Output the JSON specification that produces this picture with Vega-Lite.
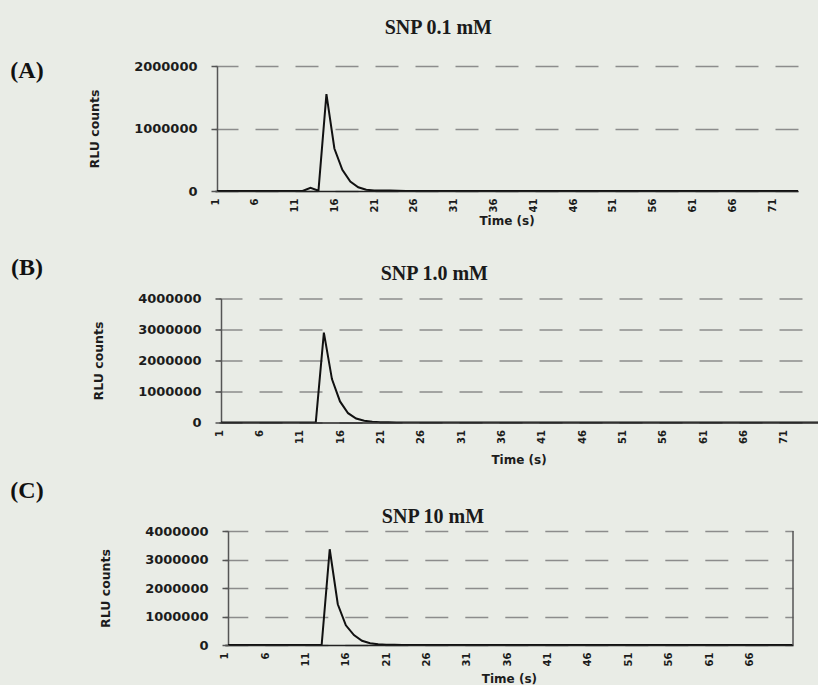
{
  "$schema": "https://vega.github.io/schema/vega-lite/v6.json",
  "background": "#e9ece6",
  "padding": {"left": 0, "top": 18, "right": 0, "bottom": 0},
  "datasets": {
    "A": [
      {"t":1,"rlu":0},{"t":2,"rlu":0},{"t":3,"rlu":0},{"t":4,"rlu":0},{"t":5,"rlu":0},{"t":6,"rlu":0},{"t":7,"rlu":0},{"t":8,"rlu":0},{"t":9,"rlu":0},{"t":10,"rlu":0},
      {"t":11,"rlu":0},{"t":12,"rlu":0},{"t":13,"rlu":50000},{"t":14,"rlu":5000},{"t":15,"rlu":1550000},{"t":16,"rlu":680000},{"t":17,"rlu":340000},{"t":18,"rlu":150000},{"t":19,"rlu":60000},{"t":20,"rlu":20000},
      {"t":21,"rlu":10000},{"t":22,"rlu":8000},{"t":23,"rlu":8000},{"t":24,"rlu":6000},{"t":25,"rlu":2000},{"t":26,"rlu":0},{"t":27,"rlu":0},{"t":28,"rlu":0},{"t":29,"rlu":0},{"t":30,"rlu":0},
      {"t":31,"rlu":0},{"t":32,"rlu":0},{"t":33,"rlu":0},{"t":34,"rlu":0},{"t":35,"rlu":0},{"t":36,"rlu":0},{"t":37,"rlu":0},{"t":38,"rlu":0},{"t":39,"rlu":0},{"t":40,"rlu":0},
      {"t":41,"rlu":0},{"t":42,"rlu":0},{"t":43,"rlu":0},{"t":44,"rlu":0},{"t":45,"rlu":0},{"t":46,"rlu":0},{"t":47,"rlu":0},{"t":48,"rlu":0},{"t":49,"rlu":0},{"t":50,"rlu":0},
      {"t":51,"rlu":0},{"t":52,"rlu":0},{"t":53,"rlu":0},{"t":54,"rlu":0},{"t":55,"rlu":0},{"t":56,"rlu":0},{"t":57,"rlu":0},{"t":58,"rlu":0},{"t":59,"rlu":0},{"t":60,"rlu":0},
      {"t":61,"rlu":0},{"t":62,"rlu":0},{"t":63,"rlu":0},{"t":64,"rlu":0},{"t":65,"rlu":0},{"t":66,"rlu":0},{"t":67,"rlu":0},{"t":68,"rlu":0},{"t":69,"rlu":0},{"t":70,"rlu":0},
      {"t":71,"rlu":0},{"t":72,"rlu":0},{"t":73,"rlu":0},{"t":74,"rlu":0},{"t":75,"rlu":0}
    ],
    "B": [
      {"t":1,"rlu":0},{"t":2,"rlu":0},{"t":3,"rlu":0},{"t":4,"rlu":0},{"t":5,"rlu":0},{"t":6,"rlu":0},{"t":7,"rlu":0},{"t":8,"rlu":0},{"t":9,"rlu":0},{"t":10,"rlu":0},
      {"t":11,"rlu":0},{"t":12,"rlu":0},{"t":13,"rlu":10000},{"t":14,"rlu":2900000},{"t":15,"rlu":1400000},{"t":16,"rlu":680000},{"t":17,"rlu":300000},{"t":18,"rlu":130000},{"t":19,"rlu":55000},{"t":20,"rlu":25000},
      {"t":21,"rlu":10000},{"t":22,"rlu":5000},{"t":23,"rlu":0},{"t":24,"rlu":0},{"t":25,"rlu":0},{"t":26,"rlu":0},{"t":27,"rlu":0},{"t":28,"rlu":0},{"t":29,"rlu":0},{"t":30,"rlu":0},
      {"t":31,"rlu":0},{"t":32,"rlu":0},{"t":33,"rlu":0},{"t":34,"rlu":0},{"t":35,"rlu":0},{"t":36,"rlu":0},{"t":37,"rlu":0},{"t":38,"rlu":0},{"t":39,"rlu":0},{"t":40,"rlu":0},
      {"t":41,"rlu":0},{"t":42,"rlu":0},{"t":43,"rlu":0},{"t":44,"rlu":0},{"t":45,"rlu":0},{"t":46,"rlu":0},{"t":47,"rlu":0},{"t":48,"rlu":0},{"t":49,"rlu":0},{"t":50,"rlu":0},
      {"t":51,"rlu":0},{"t":52,"rlu":0},{"t":53,"rlu":0},{"t":54,"rlu":0},{"t":55,"rlu":0},{"t":56,"rlu":0},{"t":57,"rlu":0},{"t":58,"rlu":0},{"t":59,"rlu":0},{"t":60,"rlu":0},
      {"t":61,"rlu":0},{"t":62,"rlu":0},{"t":63,"rlu":0},{"t":64,"rlu":0},{"t":65,"rlu":0},{"t":66,"rlu":0},{"t":67,"rlu":0},{"t":68,"rlu":0},{"t":69,"rlu":0},{"t":70,"rlu":0},
      {"t":71,"rlu":0},{"t":72,"rlu":0},{"t":73,"rlu":0},{"t":74,"rlu":0},{"t":75,"rlu":0},{"t":76,"rlu":0}
    ],
    "C": [
      {"t":1,"rlu":0},{"t":2,"rlu":0},{"t":3,"rlu":0},{"t":4,"rlu":0},{"t":5,"rlu":0},{"t":6,"rlu":0},{"t":7,"rlu":0},{"t":8,"rlu":0},{"t":9,"rlu":0},{"t":10,"rlu":0},
      {"t":11,"rlu":0},{"t":12,"rlu":0},{"t":13,"rlu":0},{"t":14,"rlu":3360000},{"t":15,"rlu":1430000},{"t":16,"rlu":690000},{"t":17,"rlu":350000},{"t":18,"rlu":150000},{"t":19,"rlu":60000},{"t":20,"rlu":25000},
      {"t":21,"rlu":12000},{"t":22,"rlu":5000},{"t":23,"rlu":0},{"t":24,"rlu":0},{"t":25,"rlu":0},{"t":26,"rlu":0},{"t":27,"rlu":0},{"t":28,"rlu":0},{"t":29,"rlu":0},{"t":30,"rlu":0},
      {"t":31,"rlu":0},{"t":32,"rlu":0},{"t":33,"rlu":0},{"t":34,"rlu":0},{"t":35,"rlu":0},{"t":36,"rlu":0},{"t":37,"rlu":0},{"t":38,"rlu":0},{"t":39,"rlu":0},{"t":40,"rlu":0},
      {"t":41,"rlu":0},{"t":42,"rlu":0},{"t":43,"rlu":0},{"t":44,"rlu":0},{"t":45,"rlu":0},{"t":46,"rlu":0},{"t":47,"rlu":0},{"t":48,"rlu":0},{"t":49,"rlu":0},{"t":50,"rlu":0},
      {"t":51,"rlu":0},{"t":52,"rlu":0},{"t":53,"rlu":0},{"t":54,"rlu":0},{"t":55,"rlu":0},{"t":56,"rlu":0},{"t":57,"rlu":0},{"t":58,"rlu":0},{"t":59,"rlu":0},{"t":60,"rlu":0},
      {"t":61,"rlu":0},{"t":62,"rlu":0},{"t":63,"rlu":0},{"t":64,"rlu":0},{"t":65,"rlu":0},{"t":66,"rlu":0},{"t":67,"rlu":0},{"t":68,"rlu":0},{"t":69,"rlu":0},{"t":70,"rlu":0},
      {"t":71,"rlu":0},{"t":72,"rlu":0}
    ]
  },
  "bounds": "flush",
  "spacing": 232.5,
  "vconcat": [
    {
      "spacing": 34,
      "hconcat": [
        {
          "width": 54, "height": 10,
          "data": {"values": [{"label": "(A)"}]},
          "mark": {"type": "text", "font": "Liberation Serif", "fontWeight": "bold", "fontSize": 24, "color": "#111"},
          "encoding": {"text": {"field": "label", "type": "nominal"}}
        },
        {
          "width": 581, "height": 125,
          "title": {"text": "SNP 0.1 mM", "offset": 22, "frame": "bounds", "anchor": "middle", "dx": -6},
          "data": {"name": "A"},
          "mark": {"type": "line", "color": "#111", "strokeWidth": 2, "clip": true},
          "encoding": {
            "x": {"field": "t", "type": "quantitative", "scale": {"domain": [1, 74.25], "range": [-2, 581], "nice": false, "zero": false},
              "axis": {"values": [1,6,11,16,21,26,31,36,41,46,51,56,61,66,71], "labelAngle": 270, "ticks": false, "tickSize": 0, "labelPadding": 7, "grid": false, "domainColor": "#222", "domainWidth": 1.5, "labelFontSize": 10, "labelFlush": false, "labelOverlap": false, "labelBound": false, "title": "Time (s)", "titleFontSize": 12, "titlePadding": 4}},
            "y": {"field": "rlu", "type": "quantitative", "scale": {"domain": [0, 2000000], "nice": false},
              "axis": {"values": [0, 1000000, 2000000], "format": "d", "grid": true, "gridDash": [23, 17], "gridColor": "#8c8c8c", "gridWidth": 1.5, "tickSize": 6, "labelPadding": 14, "labelFontSize": 13, "labelFlush": false, "labelOverlap": false, "title": "RLU counts", "titleFontSize": 12.5, "titlePadding": 32, "domainWidth": 1.5}}
          }
        }
      ]
    },
    {
      "spacing": 38,
      "hconcat": [
        {
          "width": 54, "height": 10,
          "data": {"values": [{"label": "(B)"}]},
          "mark": {"type": "text", "font": "Liberation Serif", "fontWeight": "bold", "fontSize": 24, "color": "#111", "dy": -36},
          "encoding": {"text": {"field": "label", "type": "nominal"}}
        },
        {
          "width": 597, "height": 124,
          "title": {"text": "SNP 1.0 mM", "offset": 9, "frame": "bounds", "anchor": "middle", "dx": -22},
          "data": {"name": "B"},
          "mark": {"type": "line", "color": "#111", "strokeWidth": 2, "clip": true},
          "encoding": {
            "x": {"field": "t", "type": "quantitative", "scale": {"domain": [1, 75.25], "range": [-2, 597], "nice": false, "zero": false},
              "axis": {"values": [1,6,11,16,21,26,31,36,41,46,51,56,61,66,71], "labelAngle": 270, "ticks": false, "tickSize": 0, "labelPadding": 7, "grid": false, "domainColor": "#222", "domainWidth": 1.5, "labelFontSize": 10, "labelFlush": false, "labelOverlap": false, "labelBound": false, "title": "Time (s)", "titleFontSize": 12, "titlePadding": 11}},
            "y": {"field": "rlu", "type": "quantitative", "scale": {"domain": [0, 4000000], "nice": false},
              "axis": {"values": [0, 1000000, 2000000, 3000000, 4000000], "format": "d", "grid": true, "gridDash": [23, 17], "gridColor": "#8c8c8c", "gridWidth": 1.5, "tickSize": 6, "labelPadding": 14, "labelFontSize": 13, "labelFlush": false, "labelOverlap": false, "title": "RLU counts", "titleFontSize": 12.5, "titlePadding": 32, "domainWidth": 1.5}}
          }
        }
      ]
    },
    {
      "spacing": 45,
      "hconcat": [
        {
          "width": 54, "height": 10,
          "data": {"values": [{"label": "(C)"}]},
          "mark": {"type": "text", "font": "Liberation Serif", "fontWeight": "bold", "fontSize": 24, "color": "#111", "dy": -45},
          "encoding": {"text": {"field": "label", "type": "nominal"}}
        },
        {
          "width": 565, "height": 114,
          "title": {"text": "SNP 10 mM", "offset": -2, "frame": "bounds", "anchor": "middle", "dx": -15},
          "layer": [
            {
              "data": {"name": "C"},
              "mark": {"type": "line", "color": "#111", "strokeWidth": 2, "clip": true},
              "encoding": {
                "x": {"field": "t", "type": "quantitative", "scale": {"domain": [1, 71.4], "range": [-3.2, 565], "nice": false, "zero": false},
                  "axis": {"values": [1,6,11,16,21,26,31,36,41,46,51,56,61,66], "labelAngle": 270, "ticks": false, "tickSize": 0, "labelPadding": 7, "grid": false, "domainColor": "#222", "domainWidth": 1.5, "labelFontSize": 10, "labelFlush": false, "labelOverlap": false, "labelBound": false, "title": "Time (s)", "titleFontSize": 12, "titlePadding": 8}},
                "y": {"field": "rlu", "type": "quantitative", "scale": {"domain": [0, 4000000], "nice": false},
                  "axis": {"values": [0, 1000000, 2000000, 3000000, 4000000], "format": "d", "grid": true, "gridDash": [23, 17], "gridColor": "#8c8c8c", "gridWidth": 1.5, "tickSize": 6, "labelPadding": 14, "labelFontSize": 13, "labelFlush": false, "labelOverlap": false, "title": "RLU counts", "titleFontSize": 12.5, "titlePadding": 32, "domainWidth": 1.5}}
              }
            },
            {
              "data": {"values": [{"edge": "right"}]},
              "mark": {"type": "rule", "color": "#555", "strokeWidth": 1.5},
              "encoding": {
                "x": {"datum": 71.4, "type": "quantitative", "scale": {"domain": [1, 71.4], "range": [-3.2, 565], "nice": false, "zero": false},
                  "axis": {"values": [1,6,11,16,21,26,31,36,41,46,51,56,61,66], "labelAngle": 270, "ticks": false, "tickSize": 0, "labelPadding": 7, "grid": false, "domainColor": "#222", "domainWidth": 1.5, "labelFontSize": 10, "labelFlush": false, "labelOverlap": false, "labelBound": false, "title": "Time (s)", "titleFontSize": 12, "titlePadding": 8}},
                "y": {"datum": 0, "type": "quantitative", "scale": {"domain": [0, 4000000], "nice": false},
                  "axis": {"values": [0, 1000000, 2000000, 3000000, 4000000], "format": "d", "grid": true, "gridDash": [23, 17], "gridColor": "#8c8c8c", "gridWidth": 1.5, "tickSize": 6, "labelPadding": 14, "labelFontSize": 13, "labelFlush": false, "labelOverlap": false, "title": "RLU counts", "titleFontSize": 12.5, "titlePadding": 32, "domainWidth": 1.5}},
                "y2": {"datum": 4000000}
              }
            }
          ]
        }
      ]
    }
  ],
  "config": {
    "view": {"stroke": null},
    "axis": {"labelFont": "DejaVu Sans", "labelFontWeight": "bold", "labelColor": "#1c1c1c", "titleFont": "DejaVu Sans", "titleFontWeight": "bold", "titleColor": "#1c1c1c", "domainColor": "#555", "tickColor": "#555", "tickWidth": 1.5},
    "title": {"font": "Liberation Serif", "fontWeight": "bold", "fontSize": 20, "color": "#1a1a1a"}
  }
}
